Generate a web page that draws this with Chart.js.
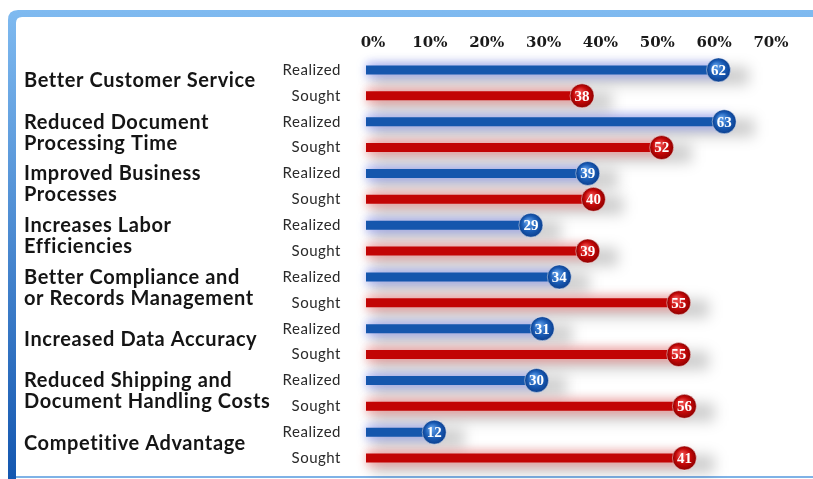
<!DOCTYPE html>
<html>
<head>
<meta charset="utf-8">
<script src="https://cdn.jsdelivr.net/npm/chart.js@4.4.0/dist/chart.umd.min.js"></script>
<style>
  html, body { margin: 0; padding: 0; background: #fff; }
  #wrap { width: 813px; height: 479px; position: relative; }
</style>
</head>
<body>
<div id="wrap"><canvas id="chart" width="813" height="479"></canvas></div>
<script>
// Data
const groupLabels = [
  ['Better Customer Service'],
  ['Reduced Document', 'Processing Time'],
  ['Improved Business', 'Processes'],
  ['Increases Labor', 'Efficiencies'],
  ['Better Compliance and', 'or Records Management'],
  ['Increased Data Accuracy'],
  ['Reduced Shipping and', 'Document Handling Costs'],
  ['Competitive Advantage']
];
const seriesNames = ['Realized', 'Sought'];
const realized = [62, 63, 39, 29, 34, 31, 30, 12];
const sought = [38, 52, 40, 39, 55, 55, 56, 41];
// the last "Sought" bar is drawn as long as 56 in the original, though labelled 41
const soughtBarLength = [38, 52, 40, 39, 55, 55, 56, 56];
const tickValues = [0, 10, 20, 30, 40, 50, 60, 70];

const BLUE = '#1556ad';
const RED = '#c20404';

// frame around the chart
const framePlugin = {
  id: 'frame',
  beforeDraw(chart) {
    const ctx = chart.ctx;
    ctx.save();
    ctx.fillStyle = '#fff';
    ctx.fillRect(0, 0, chart.width, chart.height);
    const g = ctx.createLinearGradient(0, 10, 0, 479);
    g.addColorStop(0, '#7fbaf0');
    g.addColorStop(1, '#1457b0');
    ctx.fillStyle = g;
    ctx.beginPath();
    ctx.moveTo(8, 479);
    ctx.lineTo(8, 20);
    ctx.quadraticCurveTo(8, 10, 18, 10);
    ctx.lineTo(813, 10);
    ctx.lineTo(813, 17);
    ctx.lineTo(22, 17);
    ctx.quadraticCurveTo(16, 17, 16, 23);
    ctx.lineTo(16, 479);
    ctx.closePath();
    ctx.fill();
    ctx.fillStyle = '#7fb2e6';
    ctx.fillRect(16, 476, 797, 2);
    ctx.restore();
  }
};

// soft shadows behind bars
const shadowPlugin = {
  id: 'barShadow',
  beforeDatasetsDraw(chart) {
    const ctx = chart.ctx;
    ctx.save();
    chart.data.datasets.forEach((ds, di) => {
      const meta = chart.getDatasetMeta(di);
      const glow = di === 0 ? 'rgba(70,90,255,0.35)' : 'rgba(255,60,60,0.35)';
      meta.data.forEach(bar => {
        const x0 = bar.base, x1 = bar.x, y = bar.y;
        ctx.filter = 'blur(7px)';
        ctx.fillStyle = 'rgba(0,0,0,0.2)';
        ctx.fillRect(x0 + 6, y - 3, x1 - x0 + 24, 18);
        ctx.filter = 'blur(4px)';
        ctx.fillStyle = glow;
        ctx.fillRect(x0, y - 8, x1 - x0 + 4, 16);
      });
    });
    ctx.filter = 'none';
    ctx.restore();
  }
};

// side labels, end circles and value numbers
const labelPlugin = {
  id: 'labels',
  afterDatasetsDraw(chart) {
    const ctx = chart.ctx;
    const yScale = chart.scales.y;
    ctx.save();
    // group labels
    ctx.fillStyle = '#151515';
    ctx.font = 'bold 20px Lato';
    ctx.letterSpacing = '0.6px';
    ctx.textAlign = 'left';
    ctx.textBaseline = 'middle';
    groupLabels.forEach((lines, i) => {
      const cy = yScale.getPixelForValue(i) - 2;
      const lh = 21;
      lines.forEach((t, k) => {
        ctx.fillText(t, 24, cy + (k - (lines.length - 1) / 2) * lh);
      });
    });
    // series labels + circles
    chart.data.datasets.forEach((ds, di) => {
      const meta = chart.getDatasetMeta(di);
      const shown = di === 0 ? realized : sought;
      meta.data.forEach((bar, i) => {
        ctx.fillStyle = '#2a2a2a';
        ctx.font = '15px Lato';
        ctx.letterSpacing = '0.5px';
        ctx.textAlign = 'right';
        ctx.fillText(seriesNames[di], 341, bar.y);
        ctx.letterSpacing = '0px';

        const cx = bar.x, cy = bar.y, r = 12;
        const rg = ctx.createRadialGradient(cx - 3, cy - 4, 1, cx, cy, r);
        if (di === 0) {
          rg.addColorStop(0, '#5d9de8');
          rg.addColorStop(0.6, '#1a5cb5');
          rg.addColorStop(1, '#0b3f8f');
        } else {
          rg.addColorStop(0, '#f05050');
          rg.addColorStop(0.6, '#c40808');
          rg.addColorStop(1, '#8f0000');
        }
        ctx.beginPath();
        ctx.arc(cx, cy, r, 0, Math.PI * 2);
        ctx.fillStyle = rg;
        ctx.fill();
        ctx.lineWidth = 1;
        ctx.strokeStyle = 'rgba(255,255,255,0.45)';
        ctx.stroke();

        ctx.fillStyle = '#fff';
        ctx.font = 'bold 15px "Liberation Serif"';
        ctx.textAlign = 'center';
        ctx.fillText(String(shown[i]), cx, cy + 1);
      });
    });
    ctx.restore();
  }
};

new Chart(document.getElementById('chart'), {
  type: 'bar',
  data: {
    labels: groupLabels.map(l => l.join(' ')),
    datasets: [
      { label: seriesNames[0], data: realized, backgroundColor: BLUE },
      { label: seriesNames[1], data: soughtBarLength, backgroundColor: RED }
    ]
  },
  options: {
    indexAxis: 'y',
    responsive: false,
    animation: false,
    devicePixelRatio: 1,
    layout: { padding: { left: 366, right: 49, top: 0, bottom: 8 } },
    datasets: { bar: { categoryPercentage: 1, barPercentage: 0.35 } },
    plugins: { legend: { display: false }, tooltip: { enabled: false } },
    scales: {
      x: {
        position: 'top',
        min: 0, max: 70,
        afterBuildTicks(scale) { scale.ticks = tickValues.map(v => ({ value: v })); },
        afterFit(scale) { scale.height = 57; },
        ticks: {
          callback: v => v + '%',
          color: '#1a1a1a',
          font: { family: 'DejaVu Serif', weight: 'bold', size: 15 },
          padding: 5,
          labelOffset: 7,
          maxRotation: 0
        },
        grid: { display: false, drawTicks: false },
        border: { display: false }
      },
      y: { display: false }
    }
  },
  plugins: [framePlugin, shadowPlugin, labelPlugin]
});
</script>
</body>
</html>
